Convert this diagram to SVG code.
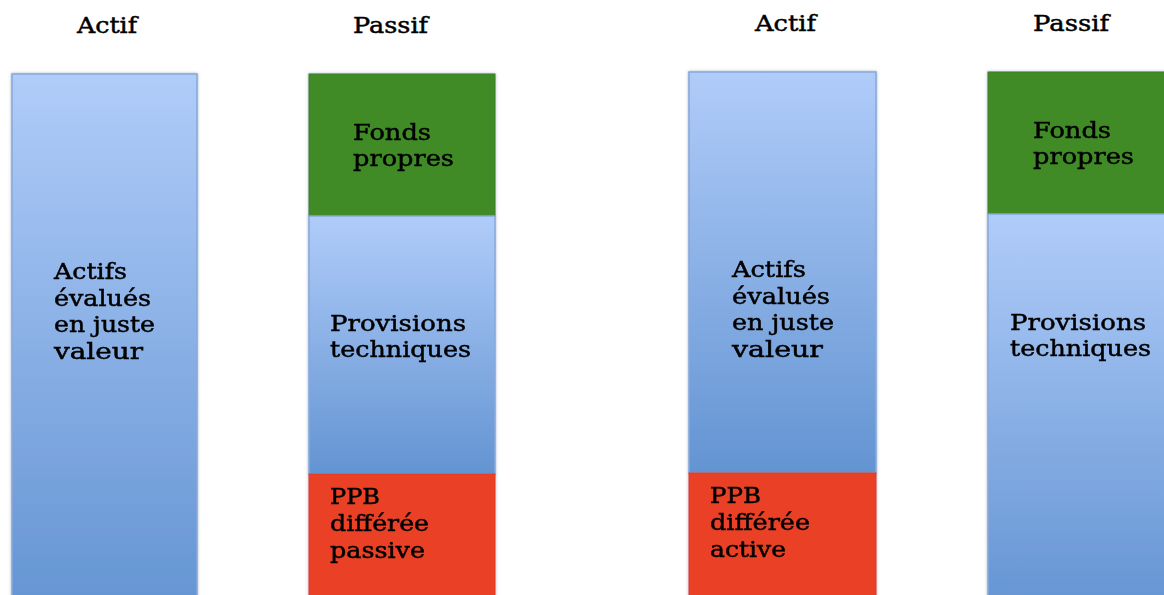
<svg xmlns="http://www.w3.org/2000/svg" width="1164" height="595" viewBox="0 0 1164 595">
<defs>
<linearGradient id="blue" x1="0" y1="0" x2="0" y2="1">
<stop offset="0" stop-color="#b0ccf9"/>
<stop offset="1" stop-color="#6394d2"/>
</linearGradient>
<filter id="sh" x="-5%" y="-5%" width="110%" height="110%">
<feGaussianBlur in="SourceAlpha" stdDeviation="1.5"/>
<feOffset dx="0" dy="0" result="b"/>
<feFlood flood-color="#5a6f90" flood-opacity="0.55"/>
<feComposite in2="b" operator="in"/>
<feMerge><feMergeNode/><feMergeNode in="SourceGraphic"/></feMerge>
</filter>
</defs>
<style>
text{font-family:"DejaVu Serif","Liberation Serif",serif;font-size:22px;fill:#000;stroke:#000;stroke-width:0.45}
.b{fill:url(#blue);stroke:#86a8dc;stroke-width:1.5}
.g{fill:#3f8b27;stroke:#3a7f24;stroke-width:1}
.r{fill:#ea4125;stroke:#e03c22;stroke-width:1}
</style>
<rect width="1164" height="595" fill="#fff"/>
<g id="headers">
<text x="77" y="33" textLength="60" lengthAdjust="spacingAndGlyphs">Actif</text>
<text x="353" y="33" textLength="75" lengthAdjust="spacingAndGlyphs">Passif</text>
<text x="755" y="31" textLength="61" lengthAdjust="spacingAndGlyphs">Actif</text>
<text x="1033" y="31" textLength="76" lengthAdjust="spacingAndGlyphs">Passif</text>
</g>
<g id="actif1" filter="url(#sh)">
<rect class="b" x="12" y="74" width="185" height="540"/>
<text x="54" y="279" textLength="73" lengthAdjust="spacingAndGlyphs">Actifs</text>
<text x="54" y="306" textLength="97" lengthAdjust="spacingAndGlyphs">évalués</text>
<text x="54" y="332" textLength="101" lengthAdjust="spacingAndGlyphs">en juste</text>
<text x="54" y="359" textLength="89" lengthAdjust="spacingAndGlyphs">valeur</text>
</g>
<g id="passif1" filter="url(#sh)">
<rect class="g" x="309" y="74" width="186" height="142"/>
<rect class="b" x="309" y="216" width="186" height="258"/>
<rect class="r" x="309" y="474" width="186" height="140"/>
<text x="353" y="140" textLength="78" lengthAdjust="spacingAndGlyphs">Fonds</text>
<text x="353" y="166" textLength="101" lengthAdjust="spacingAndGlyphs">propres</text>
<text x="330" y="331" textLength="136" lengthAdjust="spacingAndGlyphs">Provisions</text>
<text x="330" y="357" textLength="141" lengthAdjust="spacingAndGlyphs">techniques</text>
<text x="330" y="504" textLength="50" lengthAdjust="spacingAndGlyphs">PPB</text>
<text x="330" y="531" textLength="99" lengthAdjust="spacingAndGlyphs">différée</text>
<text x="330" y="558" textLength="95" lengthAdjust="spacingAndGlyphs">passive</text>
</g>
<g id="actif2" filter="url(#sh)">
<rect class="b" x="689" y="72" width="187" height="401"/>
<rect class="r" x="689" y="473" width="187" height="140"/>
<text x="732" y="277" textLength="74" lengthAdjust="spacingAndGlyphs">Actifs</text>
<text x="732" y="304" textLength="98" lengthAdjust="spacingAndGlyphs">évalués</text>
<text x="732" y="330" textLength="102" lengthAdjust="spacingAndGlyphs">en juste</text>
<text x="732" y="357" textLength="91" lengthAdjust="spacingAndGlyphs">valeur</text>
<text x="710" y="503" textLength="51" lengthAdjust="spacingAndGlyphs">PPB</text>
<text x="710" y="530" textLength="100" lengthAdjust="spacingAndGlyphs">différée</text>
<text x="710" y="557" textLength="76" lengthAdjust="spacingAndGlyphs">active</text>
</g>
<g id="passif2" filter="url(#sh)">
<rect class="g" x="988" y="72" width="190" height="142"/>
<rect class="b" x="988" y="214" width="190" height="400"/>
<text x="1033" y="138" textLength="78" lengthAdjust="spacingAndGlyphs">Fonds</text>
<text x="1033" y="164" textLength="101" lengthAdjust="spacingAndGlyphs">propres</text>
<text x="1010" y="330" textLength="136" lengthAdjust="spacingAndGlyphs">Provisions</text>
<text x="1010" y="356" textLength="141" lengthAdjust="spacingAndGlyphs">techniques</text>
</g>
<g id="connectors"></g>
</svg>
